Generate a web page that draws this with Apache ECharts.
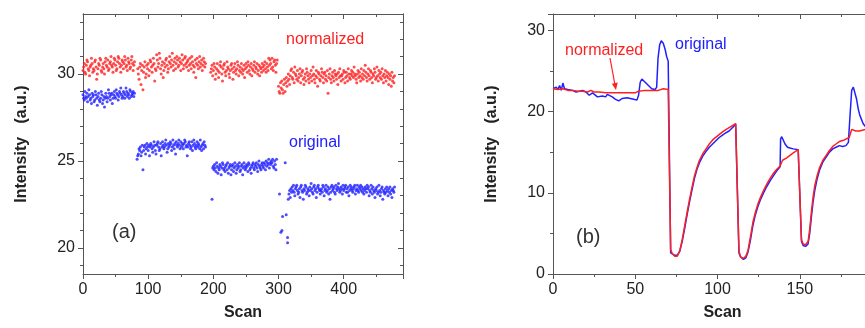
<!DOCTYPE html>
<html><head><meta charset="utf-8">
<script src="https://cdn.jsdelivr.net/npm/echarts@6/dist/echarts.min.js"></script>
<style>html,body{margin:0;padding:0;background:#fff}#c{width:865px;height:328px}</style>
</head><body><div id="c"></div>
<script>
// ---------- Panel (a): scatter, values per scan (x = start + index) ----------
const normSeg1Start = 0;
const normSeg1 = [30.2,30.4,30.6,30.1,30.0,30.5,30.8,30.7,30.3,30.2,29.9,30.4,30.5,30.9,30.6,30.1,30.3,30.2,30.7,30.8,30.4,29.7,30.0,30.3,30.6,30.5,30.9,30.8,30.2,30.1,30.4,30.6,30.3,30.0,30.7,30.9,30.5,30.4,30.8,30.2,30.3,30.6,30.7,31.0,30.5,30.4,30.1,30.6,30.9,30.8,30.5,30.2,30.3,30.7,31.0,30.9,30.6,30.4,30.1,30.5,30.8,30.7,30.3,30.6,31.0,30.8,30.4,30.5,30.2,30.9,30.7,30.6,30.3,30.4,30.8,31.0,30.6,30.2,30.5,30.7];
const normSeg2Start = 84;
const normSeg2 = [30.3,30.0,29.7,30.4,30.6,29.4,30.2,30.5,29.1,30.1,30.4,30.7,29.8,30.0,30.5,30.3,30.6,29.9,30.2,30.8,30.7,30.4,30.1,30.5,30.9,30.6,29.6,30.3,30.2,31.1,30.8,30.4,30.6,31.2,30.9,30.3,30.0,30.5,30.7,29.8,30.2,30.6,30.4,30.8,30.9,30.5,30.1,30.3,30.7,31.0,30.6,30.4,30.8,31.2,30.5,30.2,30.7,30.9,30.3,30.6,31.0,30.8,30.4,30.5,30.9,30.7,30.2,30.6,31.1,30.8,30.3,30.5,30.9,31.0,30.6,30.4,30.7,30.8,30.2,30.5,30.9,30.6,30.3,31.0,30.7,30.5,30.1,30.4,30.8,29.8,30.6,30.9,30.5,30.3,30.7,31.0,30.4,30.6,30.8,30.2,30.5,30.9,30.7,30.4,30.6];
const normSeg3Start = 196;
const normSeg3 = [30.1,30.3,30.5,29.9,30.2,30.6,30.4,29.7,30.0,30.3,30.6,30.2,29.8,30.1,30.5,30.7,30.4,30.0,29.6,30.3,30.5,30.6,30.1,29.9,30.2,30.7,30.4,30.3,30.0,29.8,30.2,30.5,30.6,30.3,29.7,30.1,30.4,30.6,30.2,30.0,30.3,30.7,30.5,29.9,30.2,30.4,30.1,30.6,30.3,30.0,30.2,30.5,29.8,30.3,30.6,30.4,30.1,30.7,30.5,30.2,30.0,30.4,30.6,29.9,30.3,30.2,30.5,30.7,30.1,30.4,30.3,30.6,30.0,30.2,30.5,29.9,30.4,30.3,30.1,30.6,30.4,30.2,30.5,30.7,30.3,30.1,30.6,30.4,30.2,30.9,30.5,30.8,30.6,30.3,30.9,30.4,30.2,30.7,30.8,30.5,30.1,30.6,30.8];
const normSeg4Start = 300;
const normSeg4 = [29.3,29.0,28.9,29.5,29.2,29.6,29.1,28.9,29.4,29.7,29.0,29.5,29.8,29.3,29.6,30.0,29.7,29.4,29.9,30.2,30.3,29.8,29.7,30.1,29.5,30.4,30.0,29.9,29.7,30.2,29.6,29.8,30.0,30.3,29.5,29.9,30.1,30.2,29.7,29.4,29.8,30.0,29.6,30.3,30.1,29.9,29.7,29.5,30.0,29.8,30.2,29.6,29.9,30.4,30.0,29.7,29.5,29.9,30.2,29.8,29.3,30.1,30.0,29.7,29.6,29.9,30.3,30.1,29.8,29.5,30.0,30.1,29.7,29.9,29.6,30.2,28.9,29.8,30.0,30.3,29.7,29.5,29.9,30.1,29.8,29.6,30.2,30.0,29.9,29.7,30.0,29.4,30.1,29.8,30.3,29.9,29.6,29.9,30.0,29.7,30.2,30.1,29.5,29.8,30.1,29.9,29.6,30.3,30.0,29.8,29.7,30.0,30.2,29.9,30.1,29.8,30.4,30.0,29.9,29.7,29.5,30.0,30.2,29.8,30.1,29.9,29.6,30.3,29.8,30.0,29.7,30.2,29.9,30.5,30.1,29.8,29.6,30.0,30.3,29.9,29.7,30.2,30.1,29.8,29.5,30.0,29.9,30.3,30.1,29.7,29.8,30.4,29.9,29.6,30.2,30.0,29.8,30.1,29.7,30.3,29.9,29.5,30.0,29.8,30.2,29.6,29.9,30.1,29.8,29.4,30.0,29.7,29.9,29.3,30.1,29.6,29.8,29.5,29.9];

const origSeg1Start = 0;
const origSeg1 = [28.8,28.6,28.5,29.0,28.7,28.6,28.9,28.4,28.7,29.1,28.8,28.5,28.6,28.3,28.9,28.7,28.8,28.4,28.5,29.0,28.8,28.6,28.2,28.7,28.9,28.5,28.4,28.6,29.0,28.8,28.3,28.5,28.7,28.1,28.6,28.9,28.7,28.4,28.6,29.1,28.9,28.7,28.5,28.8,28.9,28.3,28.6,28.8,29.0,28.7,28.6,29.1,28.9,28.8,28.5,28.7,29.0,28.9,29.2,28.8,28.6,28.7,29.0,28.9,28.6,28.8,29.2,29.0,28.7,28.9,28.8,28.6,29.1,29.0,28.7,28.8,28.9,29.0,28.7,28.9];
const origSeg2Start = 83;
const origSeg2 = [25.1,25.3,25.4,25.7,25.6,25.8,25.3,25.5,25.9,24.5,25.6,25.8,25.9,25.4,25.7,26.0,25.8,25.6,25.9,25.3,25.8,26.0,25.9,25.7,25.5,25.8,26.1,25.9,25.6,25.4,25.9,26.0,26.1,25.8,25.6,25.7,26.0,25.3,25.8,26.1,25.9,25.7,25.8,26.0,26.2,25.9,25.5,25.7,26.0,25.8,25.9,26.1,26.0,25.6,25.8,26.2,25.9,25.7,26.0,25.4,26.1,25.9,25.8,26.0,26.2,25.9,25.7,26.1,25.8,26.0,25.9,25.7,26.0,26.2,26.1,25.8,25.9,25.3,25.8,26.0,26.1,25.9,25.7,25.8,26.1,25.6,25.9,26.2,26.0,25.8,25.7,25.9,26.1,25.8,26.0,25.9,25.7,26.2,25.8,25.6,25.9,26.0,25.7,26.1,25.9,25.8];
const origSeg3Start = 198;
const origSeg3 = [22.8,24.6,24.7,24.5,24.8,24.6,24.4,24.9,24.7,24.3,24.6,24.5,24.8,24.7,24.2,24.6,24.9,24.8,24.5,24.6,24.4,24.7,24.8,24.5,24.9,24.3,24.6,24.7,24.8,24.2,24.5,24.7,24.8,24.4,24.6,24.9,24.7,24.3,24.5,24.8,24.6,24.7,24.9,24.4,24.5,24.7,24.8,24.2,24.6,24.9,24.7,24.5,24.6,24.8,24.7,24.4,24.9,24.8,24.5,24.6,24.3,24.7,24.8,24.9,24.6,24.5,24.8,24.7,24.9,24.6,24.4,24.8,25.0,24.7,24.6,24.5,24.8,24.9,24.7,24.6,24.9,24.8,24.5,25.0,24.7,24.9,24.8,25.1,24.6,24.9,24.8,25.0,24.9,25.1,24.7,24.6,25.0,24.8,24.5,25.1];
const origDropScans = [301.5,303.7,305.2,306.2,310.3,311.8,313.9,313.9];
const origDropVals  = [23.1,20.9,21.0,21.8,24.9,21.9,20.6,20.3];
const origSeg4Start = 315;
const origSeg4 = [22.8,23.1,23.3,22.9,23.4,23.2,23.5,23.3,23.6,23.2,23.0,23.4,23.5,23.6,23.3,23.1,23.2,23.4,22.9,23.5,23.6,23.3,23.2,22.8,23.4,23.3,23.6,23.5,23.1,23.2,23.4,23.3,23.0,23.5,23.3,23.7,23.4,23.2,23.1,23.5,23.6,23.3,23.4,22.9,23.2,23.5,23.6,23.4,23.3,23.1,23.3,23.4,23.2,23.6,23.5,23.0,23.3,23.4,23.6,23.2,23.3,23.5,23.1,23.4,22.8,23.2,23.5,23.6,23.3,23.4,23.5,23.2,23.1,23.6,23.4,23.3,23.5,23.7,23.4,23.2,23.3,23.5,23.4,23.1,23.6,23.3,23.4,23.5,23.6,23.2,23.4,23.2,23.5,23.0,23.3,23.6,23.4,23.5,23.3,23.2,23.4,23.5,23.6,23.1,23.3,23.4,23.6,23.3,23.2,23.5,23.4,23.6,23.3,23.5,23.2,23.4,23.1,23.3,23.5,23.4,23.2,23.6,23.4,23.5,23.0,23.3,23.2,23.6,23.4,23.1,23.5,23.3,23.2,22.9,23.4,23.3,23.5,23.1,23.2,23.6,23.3,23.0,23.2,23.4,23.5,22.8,23.3,23.2,23.1,23.4,23.2,23.5,23.3,23.0,23.4,23.2,23.5,23.1,23.3,22.9,23.4,23.3,23.2,23.5];

// ---------- Panel (b): lines, [scan, value] ----------
const origLineB = [[0,22.8],[2,23.0],[3,22.7],[4,23.2],[5,22.6],[6,23.5],[7,22.8],[9,22.7],[10,22.5],[12,22.6],[14,22.4],[16,22.5],[18,22.6],[20,22.4],[22,22.0],[24,22.3],[25,22.2],[27,21.8],[28,21.7],[30,21.9],[32,21.8],[33,22.1],[34,22.2],[36,21.8],[38,21.5],[40,21.3],[42,21.6],[43,21.5],[45,21.7],[47,21.6],[49,21.5],[51,21.4],[52,22.0],[53,23.6],[54,24.0],[56,23.6],[58,23.2],[60,22.8],[61,22.6],[62,22.7],[63,23.0],[63.8,26.5],[64.8,28.2],[65.8,28.7],[67,28.4],[68.2,27.6],[69,26.8],[70,26.2],[71.5,2.6],[72.5,2.4],[74,2.3],[75.5,2.3],[77,2.8],[78.5,4.0],[80,5.6],[81.5,7.3],[83,8.9],[84.5,10.4],[86,11.8],[87.5,12.9],[89,13.7],[91,14.5],[93,15.1],[95,15.6],[97,16.0],[99,16.4],[101,16.8],[103,17.1],[104.5,17.3],[105.5,17.2],[107,17.6],[108.5,17.9],[110,18.2],[111,18.5],[113,2.6],[114,2.1],[115.7,1.8],[117.2,2.0],[118.5,2.7],[120,4.2],[121.5,6.0],[123,7.3],[124.5,8.3],[126,9.1],[128,10.0],[130,10.8],[132,11.5],[134,12.1],[136,12.7],[138,13.2],[138.3,16.6],[139,16.9],[140,16.7],[141,16.0],[142.5,15.6],[144,15.5],[146,15.4],[149,15.3],[151,4.0],[152,3.5],[153.5,3.4],[155,3.7],[156,5.0],[157,7.0],[158,8.8],[159,10.2],[160.5,11.7],[162,12.8],[164,13.8],[166,14.4],[168,15.0],[170,15.4],[172,15.6],[174,15.8],[176,15.7],[178,15.8],[179.5,16.2],[180.5,19.5],[181.5,22.6],[182.5,23.0],[183.5,22.8],[184.5,21.5],[185.5,20.3],[186.5,19.5],[187.5,19.0],[188.5,18.5],[190,18.1],[195,17.9],[206,17.9]];
const normLineB = [[0,22.8],[3,22.7],[6,22.8],[9,22.6],[12,22.6],[15,22.5],[18,22.5],[21,22.4],[23,22.6],[25,22.4],[28,22.4],[32,22.3],[36,22.3],[40,22.3],[45,22.3],[50,22.3],[52,22.5],[56,22.6],[60,22.6],[64,22.6],[67,22.8],[70,22.7],[71.5,3.0],[72.5,2.5],[74,2.2],[75.5,2.2],[77,2.8],[78.5,4.2],[80,5.9],[81.5,7.6],[83,9.2],[84.5,10.7],[86,12.1],[87.5,13.1],[89,14.0],[91,14.8],[93,15.4],[95,16.0],[97,16.5],[100,17.0],[103,17.5],[106,17.9],[108.5,18.2],[111,18.5],[113,2.8],[114,2.1],[115.7,1.9],[117.2,2.2],[118.5,2.9],[120,4.6],[121.5,6.4],[123,7.6],[124.5,8.6],[126,9.4],[128,10.3],[130,11.1],[132,11.8],[134,12.4],[136,12.9],[138,13.3],[139.5,14.0],[142,14.3],[144,14.6],[146,14.9],[149,15.3],[151,4.2],[152,3.7],[153.5,3.6],[155,4.0],[156,5.5],[157,7.6],[158,9.4],[159,10.8],[160.5,12.1],[162,13.1],[164,14.0],[166,14.6],[168,15.2],[170,15.7],[172,16.0],[174,16.3],[177,16.5],[180,16.8],[181.5,17.8],[182.5,17.9],[184,17.6],[186,17.6],[188,17.7],[190,17.8],[195,17.8],[206,17.8]];

const yTicksA = [20,25,30];
const yMinorTicksA = [19,21,22,23,24,26,27,28,29,31,32,33];

// ---------- build ----------
function seg(start, vals){ return vals.map((v,i)=>[start+i, v]); }
const normA = [].concat(seg(normSeg1Start,normSeg1),seg(normSeg2Start,normSeg2),seg(normSeg3Start,normSeg3),seg(normSeg4Start,normSeg4));
const origA = [].concat(seg(origSeg1Start,origSeg1),seg(origSeg2Start,origSeg2),seg(origSeg3Start,origSeg3),
  origDropScans.map((s,i)=>[s,origDropVals[i]]),seg(origSeg4Start,origSeg4));

const FONT = 'Liberation Sans, Arial, sans-serif';
const RED = '#ff1f1f', BLUE = '#2020ff', AX = '#555';
const lineStyle = {color: AX, width: 1};
const lbl = {color:'#222', fontSize:16, fontFamily:FONT};
const nameStyle = {color:'#222', fontSize:16, fontWeight:'bold', fontFamily:FONT};

function xAx(grid, max, top){
  return {type:'value', gridIndex:grid, min:0, max:max, interval: grid===0?100:50,
    position: top?'top':'bottom',
    axisLine:{show:true, onZero:false, lineStyle},
    axisTick:{show:true, inside: !!top, length:5, lineStyle},
    minorTick:{show:true, splitNumber:2, length:3, lineStyle},
    axisLabel:{show:!top, margin:8, showMaxLabel:false, ...lbl},
    splitLine:{show:false},
    name: top ? '' : 'Scan', nameLocation:'middle', nameGap:31, nameTextStyle:nameStyle};
}
function yAxA(right, minor){
  return {type:'value', gridIndex:0, min:18.5, max:33.45, position: right?'right':'left', offset:0,
    axisLine:{show:true, onZero:false, lineStyle},
    axisTick:{show:true, inside:right, length: minor?3:5, customValues: minor?yMinorTicksA:yTicksA, lineStyle},
    axisLabel:{show: !right && !minor, customValues: yTicksA, margin:8, ...lbl},
    splitLine:{show:false},
    name: (!right && !minor) ? 'Intensity   (a.u.)' : '', nameLocation:'middle', nameGap:53, nameRotate:90, nameTextStyle:nameStyle};
}
function yAxB(right){
  return {type:'value', gridIndex:1, min:0, max:32, interval:10, position: right?'right':'left',
    axisLine:{show:true, onZero:false, lineStyle},
    axisTick:{show:true, inside:right, length:5, lineStyle},
    minorTick:{show:true, splitNumber:2, length:3, lineStyle},
    axisLabel:{show:!right, margin:8, showMaxLabel:false, ...lbl},
    splitLine:{show:false},
    name: right ? '' : 'Intensity   (a.u.)', nameLocation:'middle', nameGap:53, nameRotate:90, nameTextStyle:nameStyle};
}

const chart = echarts.init(document.getElementById('c'), null, {renderer:'canvas'});
const txt = (x,y,s,color,size) => ({type:'text', x, y, silent:true,
  style:{text:s, fill:color, font: (size||16)+'px '+FONT, textVerticalAlign:'middle', textAlign:'left'}});
chart.setOption({
  animation:false,
  backgroundColor:'#fff',
  grid:[{left:83, top:14, width:320, height:260, outerBoundsMode:'none', containLabel:false},
        {left:553, top:14, width:339, height:260, outerBoundsMode:'none', containLabel:false}],
  xAxis:[xAx(0,491,false), xAx(0,491,true), xAx(1,206,false), xAx(1,206,true)],
  yAxis:[yAxA(false,false), yAxA(false,true), yAxA(true,false), yAxA(true,true), yAxB(false), yAxB(true)],
  series:[
    {type:'scatter', xAxisIndex:0, yAxisIndex:0, data:normA, symbol:'circle', symbolSize:3, itemStyle:{color:RED}},
    {type:'scatter', xAxisIndex:0, yAxisIndex:0, data:origA, symbol:'circle', symbolSize:3, itemStyle:{color:BLUE}},
    {type:'line', xAxisIndex:2, yAxisIndex:4, data:origLineB, showSymbol:false, lineStyle:{color:BLUE, width:1.5}},
    {type:'line', xAxisIndex:2, yAxisIndex:4, data:normLineB, showSymbol:false, lineStyle:{color:RED, width:1.5}}
  ],
  graphic:[
    txt(286,40,'normalized',RED),
    txt(289,143,'original',BLUE),
    txt(112,232,'(a)','#333',20),
    txt(565,51,'normalized',RED),
    txt(675,45,'original',BLUE),
    txt(576,237,'(b)','#333',20),
    {type:'line', silent:true, shape:{x1:610,y1:58,x2:614.8,y2:84}, style:{stroke:RED, lineWidth:1.2}},
    {type:'polygon', silent:true, shape:{points:[[616,90],[617.7,82.6],[611.8,83.7]]}, style:{fill:RED}}
  ]
});
</script></body></html>
